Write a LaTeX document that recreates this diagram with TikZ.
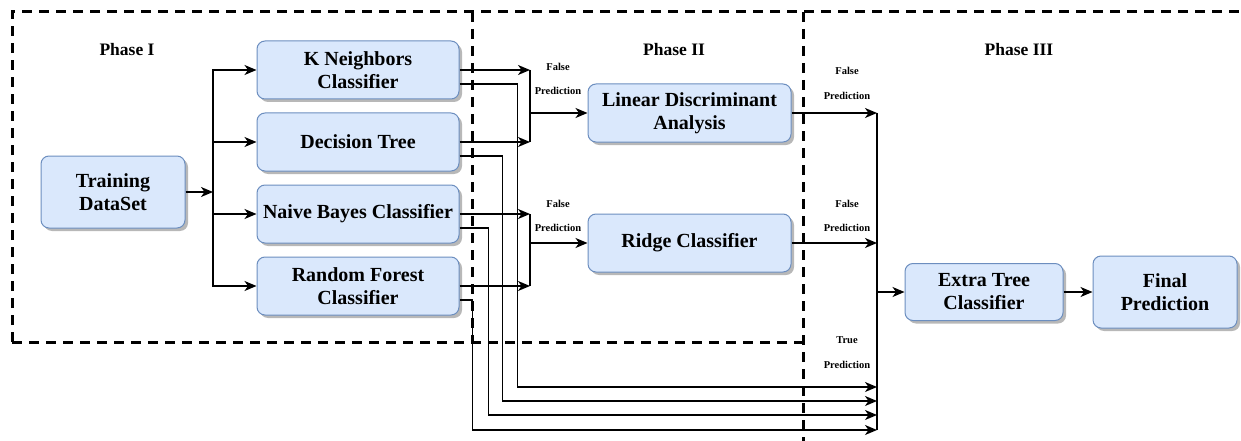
\documentclass[tikz,border=0pt]{standalone}
\usepackage{fontspec}
\setmainfont{Liberation Serif}
\usetikzlibrary{arrows.meta,shadows}
\definecolor{boxfill}{HTML}{DAE8FC}
\definecolor{boxline}{HTML}{6C8EBF}
\begin{document}
\begin{tikzpicture}[x=1pt,y=-1pt,
  box/.style={draw=boxline, fill=boxfill, rounded corners=8pt, line width=1pt, align=center,
    font=\fontsize{20}{23}\selectfont\bfseries, inner sep=0pt,
    drop shadow={shadow xshift=3pt, shadow yshift=-3pt, fill=black!28, opacity=1}},
  conn/.style={line width=1.3pt},
  arr/.style={conn, -{Stealth[length=12pt,width=10pt,inset=3.5pt]}},
  phase/.style={font=\fontsize{17.5}{20}\selectfont\bfseries},
  lbl/.style={font=\fontsize{10.5}{12}\selectfont\bfseries, inner sep=0pt},
  zone/.style={line width=3pt, dash pattern=on 10pt off 7pt}
]
\useasboundingbox (0,0) rectangle (1241,441);

% zones
\draw[zone] (12,342) -- (12,12) -- (1241,12);
\draw[zone] (12,342) -- (803,342);
\draw[zone] (472,12) -- (472,342);
\draw[zone] (803,12) -- (803,441);

\node[phase] (p1) at (127,50) {Phase I};
\node[phase] (p2) at (674,50) {Phase II};
\node[phase] (p3) at (1019,50) {Phase III};

% nodes
\node[box, minimum width=144pt, minimum height=72pt] (train) at (113,192) {Training\\DataSet};
\node[box, minimum width=202pt, minimum height=58pt] (kn) at (358,70) {K Neighbors\\Classifier};
\node[box, minimum width=202pt, minimum height=58pt] (dt) at (358,142) {Decision Tree};
\node[box, minimum width=202pt, minimum height=58pt] (nb) at (358,214) {Naive Bayes Classifier};
\node[box, minimum width=202pt, minimum height=58pt] (rf) at (358,286) {Random Forest\\Classifier};
\node[box, minimum width=203pt, minimum height=58pt] (lda) at (689.5,113) {Linear Discriminant\\Analysis};
\node[box, minimum width=203pt, minimum height=58pt] (ridge) at (689.5,243) {Ridge Classifier};
\node[box, minimum width=158pt, minimum height=57pt] (et) at (984,292) {Extra Tree\\Classifier};
\node[box, minimum width=144pt, minimum height=72pt] (fp) at (1165,292) {Final\\Prediction};

% coordinates
\coordinate (split) at (213,192);
\coordinate (j1a) at (530,70);
\coordinate (j1b) at (530,142);
\coordinate (j1m) at (530,113);
\coordinate (j2a) at (530,214);
\coordinate (j2b) at (530,286);
\coordinate (j2m) at (530,243);
\coordinate (c1) at (877,113);
\coordinate (c2) at (877,243);
\coordinate (c3) at (877,292);
\coordinate (t1) at (877,387);
\coordinate (t2) at (877,401);
\coordinate (t3) at (877,415);
\coordinate (t4) at (877,430);

% phase I connectors
\draw[arr] (train.east) -- (split);
\draw[arr] (split) |- (kn.west);
\draw[arr] (split) |- (dt.west);
\draw[arr] (split) |- (nb.west);
\draw[arr] (split) |- (rf.west);

% false predictions to phase II
\draw[arr] (kn.east) -- (j1a);
\draw[arr] (dt.east) -- (j1b);
\draw[conn] (j1a) -- (j1b);
\draw[arr] (j1m) -- (lda.west);
\draw[arr] (nb.east) -- (j2a);
\draw[arr] (rf.east) -- (j2b);
\draw[conn] (j2a) -- (j2b);
\draw[arr] (j2m) -- (ridge.west);

% true predictions
\draw[arr] ([yshift=-14pt]kn.east) -- ++(58,0) |- (t1);
\draw[arr] ([yshift=-14pt]dt.east) -- ++(43,0) |- (t2);
\draw[arr] ([yshift=-14pt]nb.east) -- ++(29,0) |- (t3);
\draw[arr] ([yshift=-14pt]rf.east) -- ++(13,0) |- (t4);

% phase III
\draw[arr] (lda.east) -- (c1);
\draw[arr] (ridge.east) -- (c2);
\draw[conn] (c1) -- (t4);
\draw[arr] (c3) -- (et.west);
\draw[arr] (et.east) -- (fp.west);

% labels
\node[lbl] (l1a) at (558,67) {False};
\node[lbl] (l1b) at (558,91) {Prediction};
\node[lbl] (l2a) at (558,204) {False};
\node[lbl] (l2b) at (558,228) {Prediction};
\node[lbl] (l3a) at (847,71) {False};
\node[lbl] (l3b) at (847,96) {Prediction};
\node[lbl] (l4a) at (847,204) {False};
\node[lbl] (l4b) at (847,228) {Prediction};
\node[lbl] (l5a) at (847,340) {True};
\node[lbl] (l5b) at (847,365) {Prediction};
\end{tikzpicture}
\end{document}
